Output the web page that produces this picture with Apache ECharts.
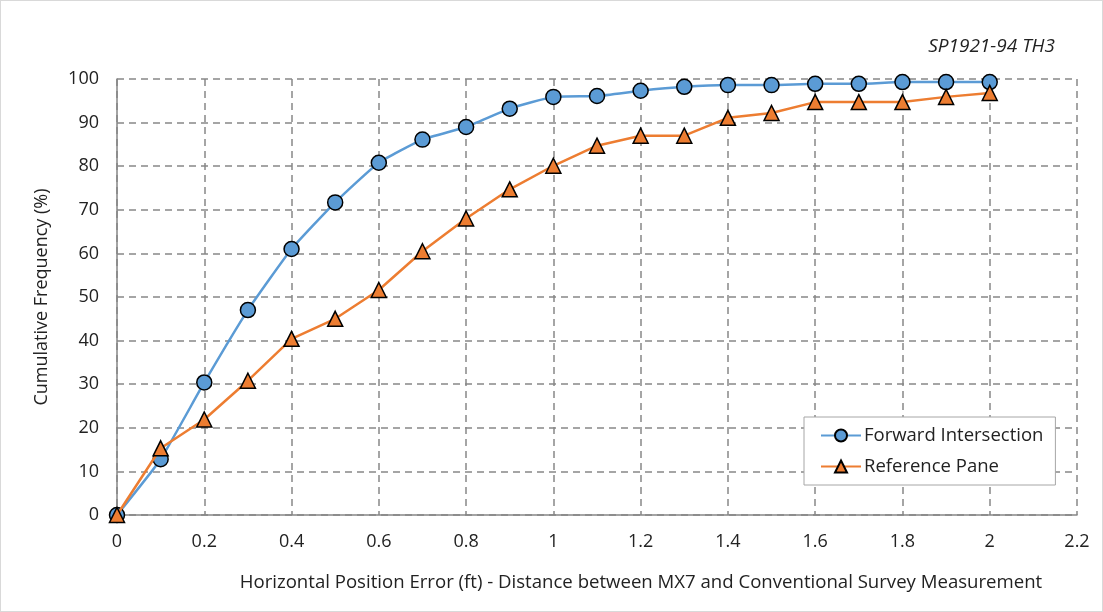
<!DOCTYPE html>
<html><head><meta charset="utf-8">
<script src="https://cdn.jsdelivr.net/npm/echarts@6/dist/echarts.min.js"></script>
<style>html,body{margin:0;padding:0;background:#fff}#c{width:1103px;height:612px;box-sizing:border-box;border:1px solid #d9d9d9}</style>
</head><body><div id="c"></div>
<script>
const xValues = [0,0.1,0.2,0.3,0.4,0.5,0.6,0.7,0.8,0.9,1.0,1.1,1.2,1.3,1.4,1.5,1.6,1.7,1.8,1.9,2.0];
const forwardIntersection = [0,12.8,30.4,47.0,61.0,71.7,80.8,86.1,89.0,93.2,95.9,96.1,97.3,98.2,98.6,98.6,98.9,98.9,99.3,99.3,99.3];
const referencePane = [0,15.3,21.9,30.8,40.4,45.0,51.6,60.5,68.0,74.7,80.1,84.7,87.0,87.0,91.1,92.2,94.7,94.7,94.7,95.9,96.8];
const seriesNames = ['Forward Intersection','Reference Pane'];
const titleText = 'SP1921-94 TH3';
const xName = 'Horizontal Position Error (ft) - Distance between MX7 and Conventional Survey Measurement';
const yName = 'Cumulative Frequency (%)';

const font = 'Open Sans, Noto Sans, sans-serif';
const chart = echarts.init(document.getElementById('c'));
const pairs = arr => xValues.map((x,i)=>[x,arr[i]]);
chart.setOption({
  animation:false,
  textStyle:{fontFamily:font},
  title:{text:titleText,right:42,top:31,textStyle:{fontFamily:font,fontStyle:'italic',fontWeight:'normal',fontSize:19,color:'#222'}},
  grid:{left:116,right:25,top:78,bottom:96,show:false},
  legend:{
    orient:'vertical',left:803,top:416,
    padding:[9,12,9,16],itemGap:12,itemWidth:40,itemHeight:15,
    backgroundColor:'#fff',borderColor:'#a6a6a6',borderWidth:1,
    textStyle:{fontFamily:font,fontSize:18.5,color:'#222',padding:[0,0,0,-2]},
    data:seriesNames
  },
  xAxis:{type:'value',min:0,max:2.2,interval:0.2,
    name:xName,nameLocation:'middle',nameGap:58,
    nameTextStyle:{fontFamily:font,fontSize:18.6,color:'#222',padding:[0,0,0,88]},
    axisLine:{lineStyle:{color:'#868686',width:1.5}},
    axisTick:{show:false},
    axisLabel:{fontFamily:font,fontSize:18,color:'#222',margin:18,formatter:v=>String(Math.round(v*10)/10)},
    splitLine:{show:true,lineStyle:{color:'#888',type:[7,5],width:1.5}}
  },
  yAxis:{type:'value',min:0,max:100,interval:10,
    name:yName,nameLocation:'middle',nameGap:66,
    nameTextStyle:{fontFamily:font,fontSize:18,color:'#222'},
    axisLine:{show:true,lineStyle:{color:'#868686',width:1.5}},
    axisTick:{show:false},
    axisLabel:{fontFamily:font,fontSize:18,color:'#222',margin:18},
    splitLine:{show:true,lineStyle:{color:'#888',type:[7,5],width:1.5}}
  },
  series:[
    {name:seriesNames[0],type:'line',data:pairs(forwardIntersection),smooth:0.15,
     symbol:'circle',symbolSize:15,lineStyle:{color:'#5b9bd5',width:2.5},
     itemStyle:{color:'#5b9bd5',borderColor:'#000',borderWidth:1.5},z:3},
    {name:seriesNames[1],type:'line',data:pairs(referencePane),
     symbol:'triangle',symbolSize:15,lineStyle:{color:'#ed7d31',width:2.5},
     itemStyle:{color:'#ed7d31',borderColor:'#000',borderWidth:1.5},z:4}
  ]
});
</script></body></html>
